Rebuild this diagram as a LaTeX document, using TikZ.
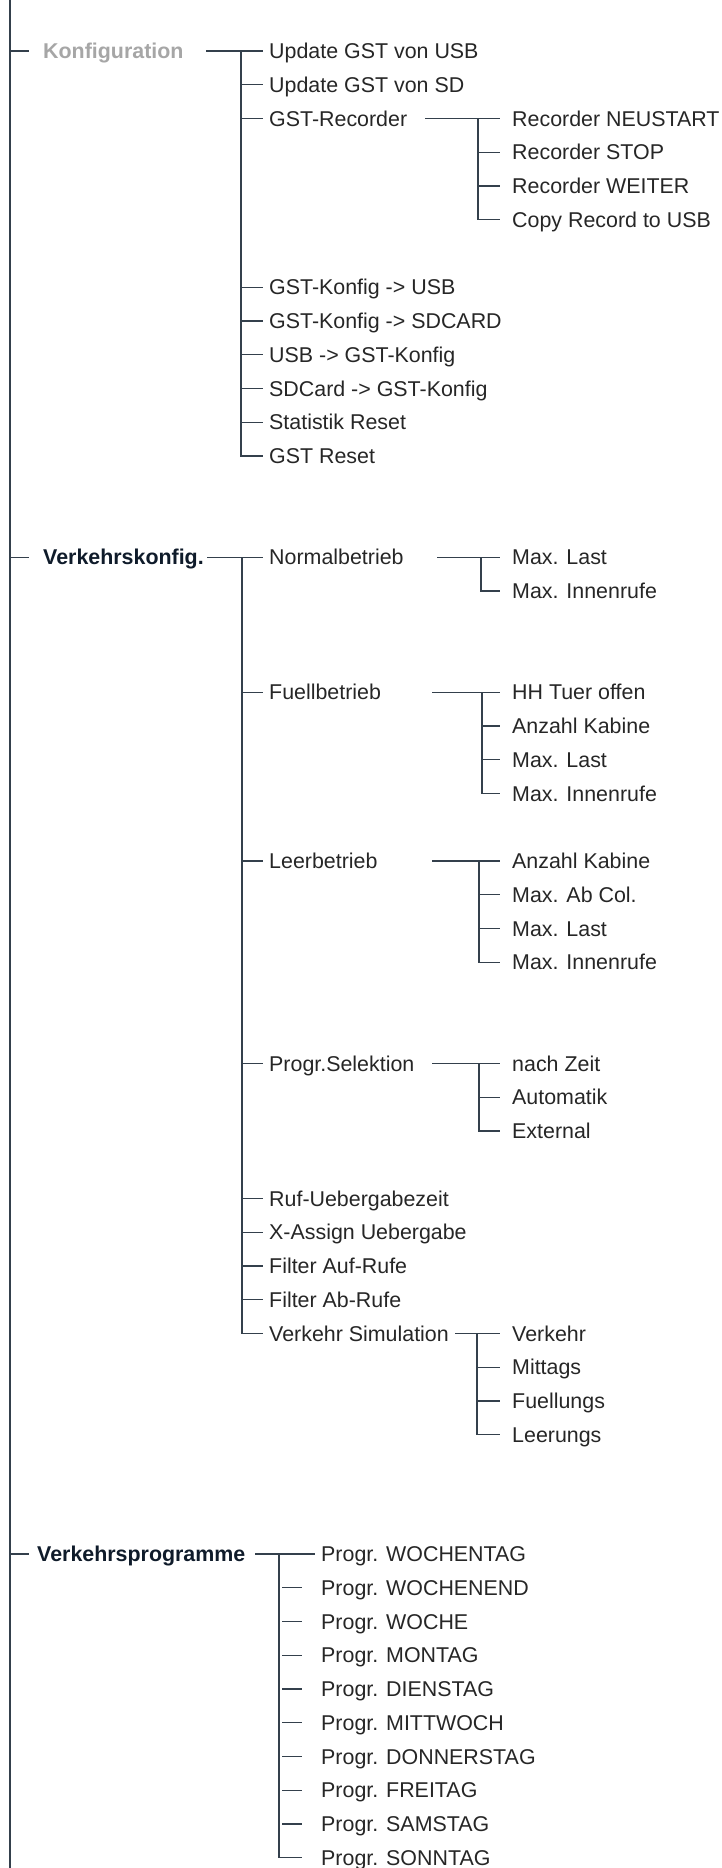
\documentclass[tikz,border=0pt]{standalone}
\usepackage{fontspec}
\setmainfont{Liberation Sans}
\usetikzlibrary{positioning}
\definecolor{cline}{HTML}{34404C}
\definecolor{ctext}{HTML}{262626}
\definecolor{chead}{HTML}{0F1B2A}
\definecolor{cgrey}{HTML}{A6A6A6}
\tikzset{
  item/.style={anchor=west, inner ysep=0pt, text height=15.3pt, text depth=0pt, font=\fontsize{21.4}{24}\selectfont, text=ctext},
  head/.style={item, inner xsep=14pt, font=\fontsize{21.4}{24}\selectfont\bfseries, text=chead},
  lvtwo/.style={item, inner xsep=6pt},
  lvthree/.style={item, inner xsep=12pt},
  lvprog/.style={item, inner xsep=19pt},
  link/.style={draw=cline, line width=1.2pt},
}

\begin{document}
\begin{tikzpicture}[x=1pt, y=-33.75pt]
\useasboundingbox (0,-1.511) rectangle (721,53.837);
% spine
\coordinate (top) at (10,-1.511);
\coordinate (bot) at (10,53.837);
\draw[link] (top) -- (bot);

% Konfiguration
\node[head, text=cgrey] (konf) at (29,0) {Konfiguration};
\draw[link] (top |- konf.west) -- (konf.west);
\coordinate (ko-s) at (206,0);
\coordinate (ko-j) at (241,0);
\node[lvtwo] (ko1) at (263,0) {Update GST von USB};
\node[lvtwo] (ko2) at (263,1) {Update GST von SD};
\node[lvtwo] (ko3) at (263,2) {GST-Recorder};
\node[lvtwo] (ko4) at (263,7) {GST-Konfig -> USB};
\node[lvtwo] (ko5) at (263,8) {GST-Konfig -> SDCARD};
\node[lvtwo] (ko6) at (263,9) {USB -> GST-Konfig};
\node[lvtwo] (ko7) at (263,10) {SDCard -> GST-Konfig};
\node[lvtwo] (ko8) at (263,11) {Statistik Reset};
\node[lvtwo] (ko9) at (263,12) {GST Reset};
\draw[link] (ko-s) -- (ko1.west);
\draw[link] (ko-j) |- (ko9.west);
\foreach \n in {ko2,ko3,ko4,ko5,ko6,ko7,ko8} \draw[link] (ko-j |- \n.west) -- (\n.west);

% GST-Recorder
\coordinate (rec-s) at (425,2);
\coordinate (rec-j) at (478,2);
\node[lvthree] (rec1) at (500,2) {Recorder NEUSTART};
\node[lvthree] (rec2) at (500,3) {Recorder STOP};
\node[lvthree] (rec3) at (500,4) {Recorder WEITER};
\node[lvthree] (rec4) at (500,5) {Copy Record to USB};
\draw[link] (rec-s) -- (rec1.west);
\draw[link] (rec-j) |- (rec4.west);
\foreach \n in {rec2,rec3} \draw[link] (rec-j |- \n.west) -- (\n.west);

% Verkehrskonfig.
\node[head] (vk) at (29,15) {Verkehrskonfig.};
\draw[link] (top |- vk.west) -- (vk.west);
\coordinate (vk-s) at (207,15);
\coordinate (vk-j) at (242,15);
\node[lvtwo] (vk1) at (263,15) {Normalbetrieb};
\node[lvtwo] (vk2) at (263,19) {Fuellbetrieb};
\node[lvtwo] (vk3) at (263,24) {Leerbetrieb};
\node[lvtwo] (vk4) at (263,30) {Progr.Selektion};
\node[lvtwo] (vk5) at (263,34) {Ruf-Uebergabezeit};
\node[lvtwo] (vk6) at (263,35) {X-Assign Uebergabe};
\node[lvtwo] (vk7) at (263,36) {Filter Auf-Rufe};
\node[lvtwo] (vk8) at (263,37) {Filter Ab-Rufe};
\node[lvtwo] (vk9) at (263,38) {Verkehr Simulation};
\draw[link] (vk-s) -- (vk1.west);
\draw[link] (vk-j) |- (vk9.west);
\foreach \n in {vk2,vk3,vk4,vk5,vk6,vk7,vk8} \draw[link] (vk-j |- \n.west) -- (\n.west);

% Normalbetrieb
\coordinate (nb-s) at (437,15);
\coordinate (nb-j) at (481,15);
\node[lvthree] (nb1) at (500,15) {Max. Last};
\node[lvthree] (nb2) at (500,16) {Max. Innenrufe};
\draw[link] (nb-s) -- (nb1.west);
\draw[link] (nb-j) |- (nb2.west);

% Fuellbetrieb
\coordinate (fb-s) at (432,19);
\coordinate (fb-j) at (482,19);
\node[lvthree] (fb1) at (500,19) {HH Tuer offen};
\node[lvthree] (fb2) at (500,20) {Anzahl Kabine};
\node[lvthree] (fb3) at (500,21) {Max. Last};
\node[lvthree] (fb4) at (500,22) {Max. Innenrufe};
\draw[link] (fb-s) -- (fb1.west);
\draw[link] (fb-j) |- (fb4.west);
\foreach \n in {fb2,fb3} \draw[link] (fb-j |- \n.west) -- (\n.west);

% Leerbetrieb
\coordinate (lb-s) at (432,24);
\coordinate (lb-j) at (479,24);
\node[lvthree] (lb1) at (500,24) {Anzahl Kabine};
\node[lvthree] (lb2) at (500,25) {Max. Ab Col.};
\node[lvthree] (lb3) at (500,26) {Max. Last};
\node[lvthree] (lb4) at (500,27) {Max. Innenrufe};
\draw[link] (lb-s) -- (lb1.west);
\draw[link] (lb-j) |- (lb4.west);
\foreach \n in {lb2,lb3} \draw[link] (lb-j |- \n.west) -- (\n.west);

% Progr.Selektion
\coordinate (ps-s) at (432,30);
\coordinate (ps-j) at (479,30);
\node[lvthree] (ps1) at (500,30) {nach Zeit};
\node[lvthree] (ps2) at (500,31) {Automatik};
\node[lvthree] (ps3) at (500,32) {External};
\draw[link] (ps-s) -- (ps1.west);
\draw[link] (ps-j) |- (ps3.west);
\draw[link] (ps-j |- ps2.west) -- (ps2.west);

% Verkehr Simulation
\coordinate (vs-j) at (477,38);
\node[lvthree] (vs1) at (500,38) {Verkehr};
\node[lvthree] (vs2) at (500,39) {Mittags};
\node[lvthree] (vs3) at (500,40) {Fuellungs};
\node[lvthree] (vs4) at (500,41) {Leerungs};
\draw[link] (vk9.east) -- (vs1.west);
\draw[link] (vs-j) |- (vs4.west);
\foreach \n in {vs2,vs3} \draw[link] (vs-j |- \n.west) -- (\n.west);

% Verkehrsprogramme
\node[head, inner xsep=8pt] (vp) at (29,44.53) {Verkehrsprogramme};
\draw[link] (top |- vp.west) -- (vp.west);
\coordinate (vp-s) at (255,44.53);
\coordinate (vp-j) at (279,44.53);
\node[lvtwo] (vp1) at (315,44.53) {Progr. WOCHENTAG};
\node[lvprog] (vp2) at (302,45.53) {Progr. WOCHENEND};
\node[lvprog] (vp3) at (302,46.53) {Progr. WOCHE};
\node[lvprog] (vp4) at (302,47.53) {Progr. MONTAG};
\node[lvprog] (vp5) at (302,48.53) {Progr. DIENSTAG};
\node[lvprog] (vp6) at (302,49.53) {Progr. MITTWOCH};
\node[lvprog] (vp7) at (302,50.53) {Progr. DONNERSTAG};
\node[lvprog] (vp8) at (302,51.53) {Progr. FREITAG};
\node[lvprog] (vp9) at (302,52.53) {Progr. SAMSTAG};
\node[lvprog] (vp10) at (302,53.53) {Progr. SONNTAG};
\draw[link] (vp-s) -- (vp1.west);
\draw[link] (vp-j) |- (vp10.west);
\foreach \n in {vp2,vp3,vp4,vp5,vp6,vp7,vp8,vp9} \draw[link, shorten <=3pt] (vp-j |- \n.west) -- (\n.west);
\end{tikzpicture}
\end{document}
